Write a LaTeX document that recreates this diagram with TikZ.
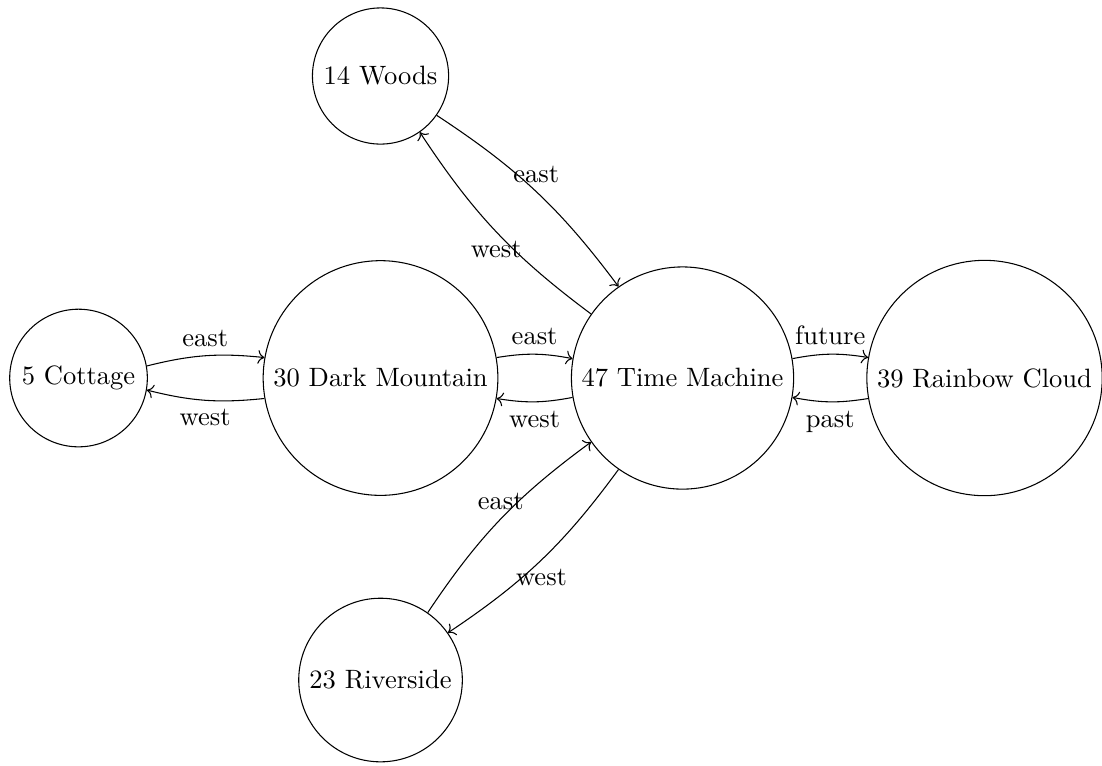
\documentclass[tikz,border=0pt]{standalone}
\usepackage{tikz}
\usetikzlibrary{arrows.meta, positioning}

\begin{document}
\begin{tikzpicture}[room/.style={draw, circle}, move/.style={->, bend left=10}]
		\useasboundingbox (-5.04,-5.126) rectangle (9.556,5.007);
		% Draw the rooms
		\node[room] (dark) at (0,0) {30 Dark Mountain};
		\node[room] (cottage) at (-4,0) {5 Cottage};
		\node[room] (time) at (4,0) {47 Time Machine};
		\node[room] (cloud) at (8,0) {39 Rainbow Cloud};
		\node[room] (woods) at (0,4) {14 Woods};
		\node[room] (river) at (0,-4) {23 Riverside};
		
		% Draw the moves between rooms
		\draw[move] (cottage) to node[above] {east} (dark);
		\draw[move] (dark) to node[below] {west} (cottage);
		\draw[move] (dark) to node[above] {east} (time);
		\draw[move] (time) to node[below] {west} (dark);
		\draw[move] (time) to node[above] {future} (cloud);
		\draw[move] (cloud) to node[below] {past} (time);
		\draw[move] (woods) to node[above] {east} (time);
		\draw[move] (time) to node[below] {west} (woods);
		\draw[move] (river) to node[above] {east} (time);
		\draw[move] (time) to node[below] {west} (river);
\end{tikzpicture}
\end{document}
